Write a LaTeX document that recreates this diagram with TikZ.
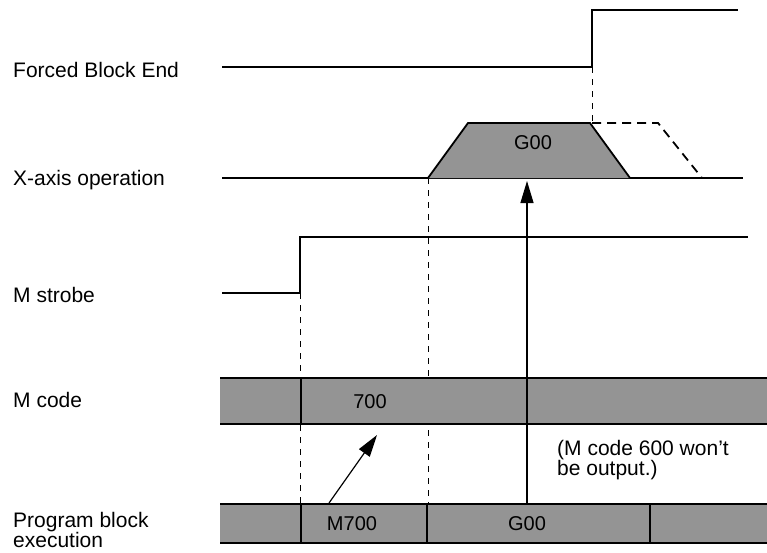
\documentclass[tikz,border=0pt]{standalone}
\usepackage{fontspec}
\setmainfont{Liberation Sans}
\usetikzlibrary{arrows.meta}
\begin{document}
\begin{tikzpicture}[x=1pt,y=-1pt,
  lbl/.style={anchor=base west, font=\fontsize{21}{20}\selectfont, inner sep=0pt},
  intext/.style={anchor=center, font=\fontsize{20}{20}\selectfont, inner sep=0pt},
  sig/.style={line width=1.8pt, line join=miter},
  guide/.style={line width=1pt, dash pattern=on 6pt off 6pt},
  ghost/.style={line width=1.8pt, dash pattern=on 9pt off 6pt},
  bandfill/.style={fill=black!42, draw=none},
  bandedge/.style={line width=1.8pt},
  divider/.style={line width=1.3pt},
  arr/.style={line width=1.2pt, -{Triangle[length=22pt,width=13pt]}}
]
\useasboundingbox (0,0) rectangle (767,552);

% guide lines (behind bands)
\draw[guide] (592,67) -- (592,123);
\draw[guide] (428,178) -- (428,504);
\draw[guide] (300,293) -- (300,504);

% M code band
\fill[bandfill] (220,378) rectangle (767,424);
\draw[bandedge] (220,378) -- (767,378);
\draw[bandedge] (220,424) -- (767,424);
\draw[divider] (301,378) -- (301,424);

% Program block band
\fill[bandfill] (220,504) rectangle (767,543);
\draw[bandedge] (220,504) -- (767,504);
\draw[bandedge] (220,543) -- (767,543);
\draw[divider] (301,504) -- (301,543);
\draw[divider] (427,504) -- (427,543);
\draw[divider] (650,504) -- (650,543);

% Forced Block End signal
\draw[sig] (222,67) -- (592,67) -- (592,10) -- (738,10);

% X-axis operation
\draw[sig] (222,178) -- (743,178);
\draw[sig, fill=black!42] (428,178) -- (468,123) -- (590,123) -- (630,178);
\draw[ghost] (592,123) -- (658,123) -- (702,178);

% M strobe
\draw[sig] (222,293) -- (300,293) -- (300,237) -- (748,237);

% arrows
\coordinate (mainS) at (527,504);
\coordinate (mainT) at (527,181);
\coordinate (mS) at (329,503);
\coordinate (mT) at (377,435);
\draw[arr] (mainS) -- (mainT);
\draw[arr] (mS) -- (mT);

% texts in shapes
\node[intext] (tg00) at (533,143) {G00};
\node[intext] (t700) at (370,402) {700};
\node[intext] (tm700) at (352,524) {M700};
\node[intext] (pg00) at (527,524) {G00};

% labels
\node[lbl] (lfbe) at (13,77) {Forced Block End};
\node[lbl] (lx) at (13,185) {X-axis operation};
\node[lbl] (lms) at (13,302) {M strobe};
\node[lbl] (lmc) at (13,407) {M code};
\node[lbl] (lpb1) at (13,527) {Program block};
\node[lbl] (lpb2) at (13,547) {execution};
\node[lbl] (n1) at (557,455) {(M code 600 won’t};
\node[lbl] (n2) at (557,475) {be output.)};
\end{tikzpicture}
\end{document}
